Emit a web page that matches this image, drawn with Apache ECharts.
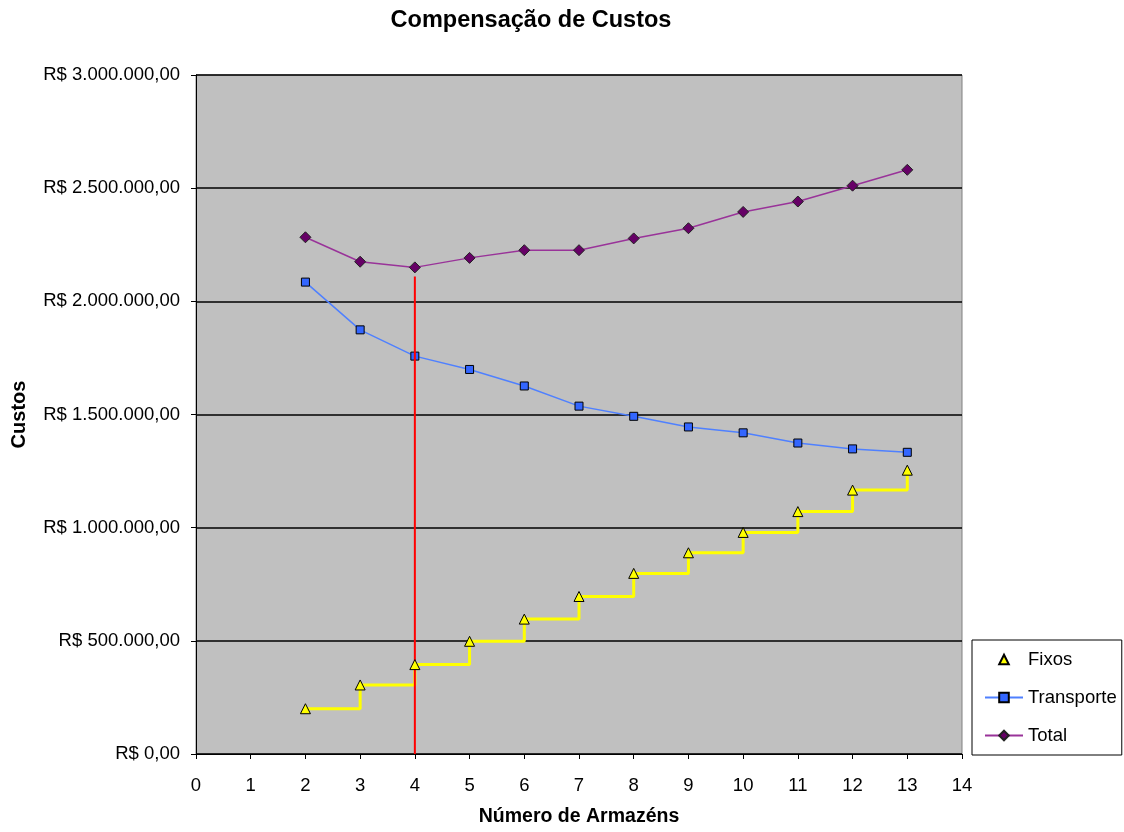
<!DOCTYPE html>
<html>
<head>
<meta charset="utf-8">
<script src="https://cdn.jsdelivr.net/npm/echarts@6/dist/echarts.min.js"></script>
<style>html,body{margin:0;padding:0;background:#fff;}#c{width:1124px;height:832px;}</style>
</head>
<body>
<div id="c"></div>
<script>
const armazens = [2, 3, 4, 5, 6, 7, 8, 9, 10, 11, 12, 13];
const fixos = [200000, 305000, 395000, 498000, 596000, 696000, 798000, 889000, 979000, 1071000, 1166000, 1254000];
const transporte = [2085000, 1874000, 1758000, 1699000, 1626000, 1537000, 1492000, 1445000, 1419000, 1374000, 1348000, 1333000];
const total = [2283000, 2175000, 2150000, 2192000, 2226000, 2226000, 2278000, 2323000, 2395000, 2441000, 2511000, 2581000];
const optimoX = [4, 4];
const optimoY = [0, 2110000];
const xTicks = [0, 14, 1];
const yTicks = [0, 3000000, 500000];

function pairs(xs, ys) { return xs.map((x, i) => [x, ys[i]]); }
function fmtBRL(v) {
  const s = Math.round(v).toString().replace(/\B(?=(\d{3})+(?!\d))/g, '.');
  return 'R$ ' + s + ',00';
}
const FONT = '"Liberation Sans", Arial, sans-serif';

const chart = echarts.init(document.getElementById('c'), null, {renderer: 'canvas'});
chart.setOption({
  backgroundColor: '#fff',
  animation: false,
  textStyle: {fontFamily: FONT, color: '#000'},
  graphic: [{
    type: 'text', x: 531, y: 21, silent: true,
    style: {
      text: 'Compensação de Custos', fill: '#000',
      font: 'bold 23.5px ' + FONT, textAlign: 'center', textVerticalAlign: 'middle'
    }
  }],
  grid: {
    left: 196, right: 162, top: 75, bottom: 75,
    show: true, backgroundColor: '#C0C0C0', borderColor: '#808080', borderWidth: 1
  },
  legend: {
    orient: 'vertical', left: 972, top: 640,
    data: ['Fixos', 'Transporte', 'Total'],
    backgroundColor: '#fff', borderColor: '#000', borderWidth: 1, borderRadius: 0,
    padding: [10, 5, 10, 12],
    itemWidth: 38, itemHeight: 12, itemGap: 19,
    textStyle: {fontFamily: FONT, fontSize: 18.5, color: '#000', padding: [0, 0, 0, 0]}
  },
  xAxis: {
    type: 'value', min: xTicks[0], max: xTicks[1], interval: xTicks[2],
    name: 'Número de Armazéns', nameLocation: 'middle', nameGap: 53,
    nameTextStyle: {fontFamily: FONT, fontSize: 19.5, fontWeight: 'bold', color: '#000'},
    axisLine: {show: true, onZero: false, lineStyle: {color: '#000', width: 1}},
    axisTick: {show: true, inside: false, length: 5, lineStyle: {color: '#000'}},
    axisLabel: {fontFamily: FONT, fontSize: 18.5, color: '#000', margin: 22},
    splitLine: {show: false}
  },
  yAxis: {
    type: 'value', min: yTicks[0], max: yTicks[1], interval: yTicks[2],
    name: 'Custos', nameLocation: 'middle', nameGap: 167, nameRotate: 90,
    nameTextStyle: {fontFamily: FONT, fontSize: 20, fontWeight: 'bold', color: '#000'},
    axisLine: {show: true, lineStyle: {color: '#000', width: 1}},
    axisTick: {show: true, inside: false, length: 5, lineStyle: {color: '#000'}},
    axisLabel: {fontFamily: FONT, fontSize: 18.5, color: '#000', margin: 16, formatter: fmtBRL},
    splitLine: {show: true, lineStyle: {color: '#000', width: 1.5}}
  },
  series: [
    {
      name: 'FixosDegrau', type: 'line', step: 'end',
      data: pairs(armazens, fixos), showSymbol: false, symbol: 'none',
      lineStyle: {color: '#FFFF00', width: 3}, itemStyle: {color: '#FFFF00'},
      z: 2, silent: true
    },
    {
      name: 'Transporte', type: 'line', data: pairs(armazens, transporte),
      symbol: 'rect', symbolSize: 8, showAllSymbol: true,
      lineStyle: {color: '#4F80FF', width: 1.5},
      itemStyle: {color: '#3366FF', borderColor: '#000', borderWidth: 1},
      z: 3
    },
    {
      name: 'Total', type: 'line', data: pairs(armazens, total),
      symbol: 'diamond', symbolSize: 11, showAllSymbol: true,
      lineStyle: {color: '#993399', width: 1.5},
      itemStyle: {color: '#660066', borderColor: '#222', borderWidth: 1},
      z: 3
    },
    {
      name: 'Ótimo', type: 'line', data: pairs(optimoX, optimoY),
      symbol: 'none', lineStyle: {color: '#FF0000', width: 2},
      itemStyle: {color: '#FF0000'}, z: 4, silent: true
    },
    {
      name: 'Fixos', type: 'line', data: pairs(armazens, fixos),
      symbol: 'triangle', symbolSize: 10, showAllSymbol: true,
      lineStyle: {width: 0, opacity: 0},
      itemStyle: {color: '#FFFF00', borderColor: '#000', borderWidth: 1},
      z: 5
    }
  ]
});
</script>
</body>
</html>
